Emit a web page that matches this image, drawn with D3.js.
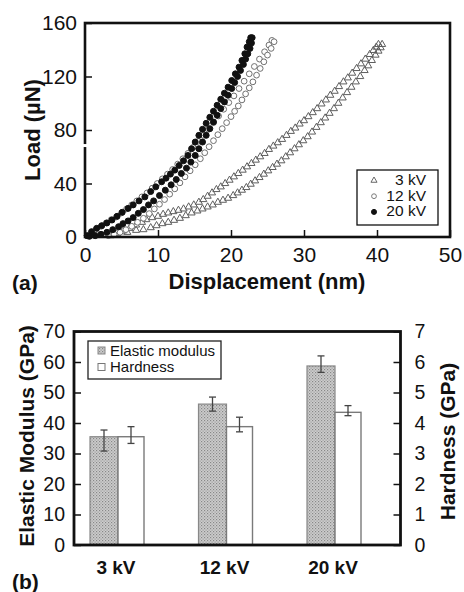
<!DOCTYPE html>
<html><head><meta charset="utf-8">
<script src="https://cdn.jsdelivr.net/npm/d3@7"></script>
<style>body{margin:0;background:#fff} text{font-family:"Liberation Sans",Arial,sans-serif;fill:#111}</style>
</head><body><svg id="c" width="464" height="592"></svg>
<script>
// ---------- Panel (a) data: load (µN) vs displacement (nm) ----------
const kv3Load = [[3.5,1],[4.3,2.5],[5.2,4.5],[6.1,6.5],[7,9],[7.8,11],[8.4,13],[9.2,14.5],[10,15.5],[10.7,17],[11.4,18],[12.1,19],[12.8,20],[13.5,21],[14.2,22.5],[14.9,24],[15.6,26],[16.2,28],[16.8,30.5],[17.4,33],[18,35.5],[18.6,37.5],[19.2,40],[19.8,42.5],[20.4,45],[21,47.5],[21.6,50],[22.2,52.5],[22.8,55],[23.4,57.5],[24,60],[24.6,62.5],[25.2,65.5],[25.8,68],[26.4,70.5],[27,73],[27.6,76],[28.2,79],[28.8,81.5],[29.4,84.5],[30,87],[30.6,90],[31.2,93],[31.8,96],[32.4,99.5],[33,102.5],[33.6,106],[34.2,109],[34.8,112.5],[35.4,116],[36,119],[36.6,122.5],[37.2,126],[37.8,129.5],[38.4,133],[39,136.5],[39.5,139.5],[39.9,142],[40.2,144]];
const kv3Unload = [[40.7,144],[40.5,141.5],[40.2,139],[39.8,136],[39.3,132],[38.8,128],[38.3,124.5],[37.7,120],[37.1,116],[36.5,112],[35.9,108],[35.3,104],[34.7,100],[34.1,96],[33.5,92.5],[32.9,89],[32.3,85.5],[31.7,82],[31.1,78.5],[30.5,75],[29.9,72],[29.3,69],[28.7,66],[28.1,63],[27.5,60],[26.9,57],[26.3,54.5],[25.7,52],[25.1,49.5],[24.5,47],[23.9,44.5],[23.3,42],[22.7,39.5],[22.1,37],[21.5,35],[20.9,33],[20.3,31],[19.6,29],[18.9,27.5],[18.2,26],[17.5,24],[16.8,22.5],[16.1,21],[15.4,19.5],[14.6,18],[13.8,16],[13,14],[12.2,12.5],[11.4,11],[10.6,10],[9.8,8.5],[9,7],[8,5.5],[7,5],[5.8,3.5],[4.5,1.5]];
const kv12Load = [[0.3,1],[0.9,3],[1.5,5.5],[2.2,8],[2.9,10.5],[3.6,13],[4.3,15],[5,18],[5.7,21],[6.4,24],[7.1,27],[7.8,30],[8.5,33],[9.2,36.5],[9.9,40],[10.6,43.5],[11.3,47],[12,50.5],[12.7,54.5],[13.4,58.5],[14.1,62.5],[14.8,67],[15.5,71.5],[16.2,76],[16.9,80.5],[17.6,85.5],[18.3,90.5],[19,95.5],[19.7,100.5],[20.4,105.5],[21.1,111],[21.8,116.5],[22.5,122],[23.2,127.5],[23.9,133],[24.6,138.5],[25.2,143.5],[25.6,147]];
const kv12Unload = [[25.9,146],[25.5,141],[25,136],[24.5,131],[24,126],[23.5,121],[23,116],[22.5,111.5],[22,107],[21.5,102.5],[21,98],[20.5,94],[20,90],[19.4,85.5],[18.8,81],[18.2,76.5],[17.6,72],[17,67.5],[16.4,63],[15.8,58.5],[15.1,54],[14.4,49.5],[13.7,45],[13,40.5],[12.3,36],[11.6,32],[10.9,28],[10.2,24.5],[9.5,21],[8.8,17.5],[8,14],[7.2,11],[6.4,8],[5.6,5.5],[4.8,3.5],[4,2],[3.2,1]];
const kv20Load = [[0.3,1],[0.9,4],[1.6,6.5],[2.3,8.5],[3,10.5],[3.7,12.7],[4.4,15.5],[5.1,18.5],[5.9,21.4],[6.6,24],[7.4,27],[8.2,30],[9,34],[9.7,37.5],[10.5,41.3],[11.1,44],[11.7,47],[12.3,50],[12.9,53.5],[13.5,57],[14.1,61],[14.6,66],[15.1,71],[15.6,76],[16.1,80.5],[16.6,85],[17.1,89.5],[17.6,94],[18.1,98.5],[18.6,103],[19.1,107.5],[19.6,112],[20.1,117],[20.6,122],[21.1,127],[21.5,132],[21.9,137],[22.2,142],[22.5,146],[22.7,149]];
const kv20Unload = [[22.9,149],[22.8,145],[22.6,141],[22.3,137],[22,133],[21.7,129],[21.3,124.5],[20.9,120],[20.5,115.5],[20.1,111],[19.6,106],[19.1,101],[18.6,96],[18.1,91],[17.6,86],[17.1,81],[16.6,76],[16.1,71],[15.6,66],[15.1,61],[14.5,56],[13.9,51.5],[13.2,47.5],[12.5,43],[11.8,39],[11,35],[10.2,31],[9.4,27],[8.7,24],[8,20.5],[7.3,17.7],[6.6,14.5],[5.9,12],[5.2,10],[4.6,7.7],[3.8,5.5],[3,3.5],[2.2,2],[1.4,1],[0.6,0.5]];
const seriesNames = ["3 kV","12 kV","20 kV"];
const dispTicks = [0,10,20,30,40,50];
const loadTicks = [0,40,80,120,160];

// ---------- Panel (b) data ----------
const categories = ["3 kV","12 kV","20 kV"];
const elasticModulus = [35.5,46.2,58.7];
const elasticErrHigh = [2.2,2.3,3.3];
const elasticErrLow  = [4.7,2.3,2.1];
const hardness = [3.55,3.88,4.35];
const hardnessErrHigh = [0.33,0.31,0.22];
const hardnessErrLow  = [0.22,0.17,0.11];
const modulusTicks = [0,10,20,30,40,50,60,70];
const hardnessTicks = [0,1,2,3,4,5,6,7];
const barLegend = ["Elastic modulus","Hardness"];

const svg = d3.select("#c");
const defs = svg.append("defs");
const pat = defs.append("pattern").attr("id","hatch").attr("patternUnits","userSpaceOnUse").attr("width",3).attr("height",3);
pat.append("rect").attr("width",3).attr("height",3).attr("fill","#cdcdcd");
pat.append("rect").attr("x",0).attr("y",0).attr("width",1.2).attr("height",1.2).attr("fill","#888");
pat.append("rect").attr("x",1.5).attr("y",1.5).attr("width",1.2).attr("height",1.2).attr("fill","#9a9a9a");

// ================= Panel (a) =================
const xA = d3.scaleLinear().domain([0,50]).range([85,450]);
const yA = d3.scaleLinear().domain([0,160]).range([237,23]);
const gA = svg.append("g");

const axL = gA.append("g").attr("transform",`translate(${xA(0)},0)`)
  .call(d3.axisLeft(yA).tickValues(loadTicks).tickSizeInner(-7).tickSizeOuter(0).tickPadding(8));
const axB = gA.append("g").attr("transform",`translate(0,${yA(0)})`)
  .call(d3.axisBottom(xA).tickValues(dispTicks).tickSizeInner(-7).tickSizeOuter(0).tickPadding(10));
[axL,axB].forEach(a=>{
  a.select(".domain").remove();
  a.selectAll(".tick line").attr("stroke","#111").attr("stroke-width",1.5);
  a.selectAll(".tick text").style("font-size","21px").attr("fill","#111").style("font-family",'"Liberation Sans",Arial,sans-serif');
});

const sym = (type,size)=>d3.symbol().type(type).size(size)();
function drawSeries(data, type, size, fill, stroke){
  gA.append("g").selectAll("path").data(data).join("path")
    .attr("d", sym(type,size))
    .attr("transform", d=>`translate(${xA(d[0])},${yA(d[1])})`)
    .attr("fill",fill).attr("stroke",stroke).attr("stroke-width",1);
}
drawSeries(kv3Load, d3.symbolTriangle, 22, "none", "#5e5e5e");
drawSeries(kv3Unload, d3.symbolTriangle, 22, "none", "#5e5e5e");
drawSeries(kv12Load, d3.symbolCircle, 26, "#fff", "#707070");
drawSeries(kv12Unload, d3.symbolCircle, 26, "#fff", "#707070");
drawSeries(kv20Load, d3.symbolCircle, 28, "#111", "#111");
drawSeries(kv20Unload, d3.symbolCircle, 28, "#111", "#111");

gA.append("rect").attr("x",xA(0)).attr("y",yA(160)).attr("width",xA(50)-xA(0)).attr("height",yA(0)-yA(160))
  .attr("fill","none").attr("stroke","#111").attr("stroke-width",2.6);
// small break in the left axis line as in the original
gA.append("rect").attr("x",xA(0)-2.5).attr("y",yA(69.5)).attr("width",5).attr("height",3).attr("fill","#fff");

// legend (a)
const lgA = gA.append("g");
lgA.append("rect").attr("x",357).attr("y",170).attr("width",81).attr("height",55).attr("fill","#fff").attr("stroke","#111").attr("stroke-width",1.3);
const legSyms = [[d3.symbolTriangle,16,"none","#666"],[d3.symbolCircle,18,"#fff","#7a7a7a"],[d3.symbolCircle,20,"#111","#111"]];
seriesNames.forEach((n,i)=>{
  const yy = 185 + i*15.7;
  lgA.append("path").attr("d",sym(legSyms[i][0],legSyms[i][1])).attr("transform",`translate(374,${yy-4.5})`)
    .attr("fill",legSyms[i][2]).attr("stroke",legSyms[i][3]).attr("stroke-width",1);
  lgA.append("text").attr("x",426).attr("y",yy).attr("text-anchor","end").style("font-size","15.5px").text(n);
});

gA.append("text").attr("transform","translate(40,130) rotate(-90)").attr("text-anchor","middle")
  .style("font-size","22px").style("font-weight","bold").text("Load (µN)");
gA.append("text").attr("x",267).attr("y",289).attr("text-anchor","middle")
  .style("font-size","22px").style("font-weight","bold").text("Displacement (nm)");
gA.append("text").attr("x",12).attr("y",290).style("font-size","21px").style("font-weight","bold").text("(a)");

// ================= Panel (b) =================
const yB = d3.scaleLinear().domain([0,70]).range([545,331.5]);
const yBR = d3.scaleLinear().domain([0,7]).range([545,331.5]);
const xB = d3.scalePoint().domain(categories).range([118,335]);
const gB = svg.append("g");

const axBL = gB.append("g").attr("transform","translate(74,0)")
  .call(d3.axisLeft(yB).tickValues(modulusTicks).tickSizeInner(-7).tickSizeOuter(0).tickPadding(9));
const axBR = gB.append("g").attr("transform","translate(400.5,0)")
  .call(d3.axisRight(yBR).tickValues(hardnessTicks).tickFormat(d3.format("d")).tickSizeInner(-7).tickSizeOuter(0).tickPadding(14));
[axBL,axBR].forEach(a=>{
  a.select(".domain").remove();
  a.selectAll(".tick line").attr("stroke","#111").attr("stroke-width",1.5);
  a.selectAll(".tick text").style("font-size","19.5px").attr("fill","#111").style("font-family",'"Liberation Sans",Arial,sans-serif');
});

const wE = 28, wH = 26;
// elastic modulus bars
gB.append("g").selectAll("rect").data(categories).join("rect")
  .attr("x",c=>xB(c)-wE).attr("y",(c,i)=>yB(elasticModulus[i])).attr("width",wE)
  .attr("height",(c,i)=>yB(0)-yB(elasticModulus[i]))
  .attr("fill","url(#hatch)").attr("stroke","#888").attr("stroke-width",1.2);
// hardness bars
gB.append("g").selectAll("rect").data(categories).join("rect")
  .attr("x",c=>xB(c)).attr("y",(c,i)=>yBR(hardness[i])).attr("width",wH)
  .attr("height",(c,i)=>yBR(0)-yBR(hardness[i]))
  .attr("fill","#fff").attr("stroke","#7a7a7a").attr("stroke-width",1.4);

function errBar(cx, yTop, yBot){
  const g = gB.append("g").attr("stroke","#444").attr("stroke-width",1.3);
  g.append("line").attr("x1",cx).attr("x2",cx).attr("y1",yTop).attr("y2",yBot);
  g.append("line").attr("x1",cx-3.5).attr("x2",cx+3.5).attr("y1",yTop).attr("y2",yTop);
  g.append("line").attr("x1",cx-3.5).attr("x2",cx+3.5).attr("y1",yBot).attr("y2",yBot);
}
categories.forEach((c,i)=>{
  errBar(xB(c)-wE/2, yB(elasticModulus[i]+elasticErrHigh[i]), yB(elasticModulus[i]-elasticErrLow[i]));
  errBar(xB(c)+wH/2, yBR(hardness[i]+hardnessErrHigh[i]), yBR(hardness[i]-hardnessErrLow[i]));
});

gB.append("rect").attr("x",74).attr("y",331.5).attr("width",326.5).attr("height",213.5)
  .attr("fill","none").attr("stroke","#111").attr("stroke-width",2.8);

// category labels
gB.append("g").selectAll("text").data(categories).join("text")
  .attr("x",c=>xB(c)-2).attr("y",574).attr("text-anchor","middle")
  .style("font-size","19px").style("font-weight","bold").text(c=>c);

// legend (b)
const lgB = gB.append("g");
lgB.append("rect").attr("x",88).attr("y",341).attr("width",133).attr("height",38).attr("fill","#fff").attr("stroke","#222").attr("stroke-width",1.3);
lgB.append("rect").attr("x",98).attr("y",347).attr("width",7).attr("height",7).attr("fill","url(#hatch)").attr("stroke","#888").attr("stroke-width",1);
lgB.append("rect").attr("x",98).attr("y",363.5).attr("width",7).attr("height",7).attr("fill","#fff").attr("stroke","#777").attr("stroke-width",1);
barLegend.forEach((t,i)=>{
  lgB.append("text").attr("x",110).attr("y",355.5+i*16.5).style("font-size","15px").text(t);
});

gB.append("text").attr("transform","translate(34,436) rotate(-90)").attr("text-anchor","middle")
  .style("font-size","21px").style("font-weight","bold").text("Elastic Modulus (GPa)");
gB.append("text").attr("transform","translate(455,441.5) rotate(-90)").attr("text-anchor","middle")
  .style("font-size","21px").style("font-weight","bold").text("Hardness (GPa)");
gB.append("text").attr("x",12).attr("y",589).style("font-size","21px").style("font-weight","bold").text("(b)");
</script></body></html>
